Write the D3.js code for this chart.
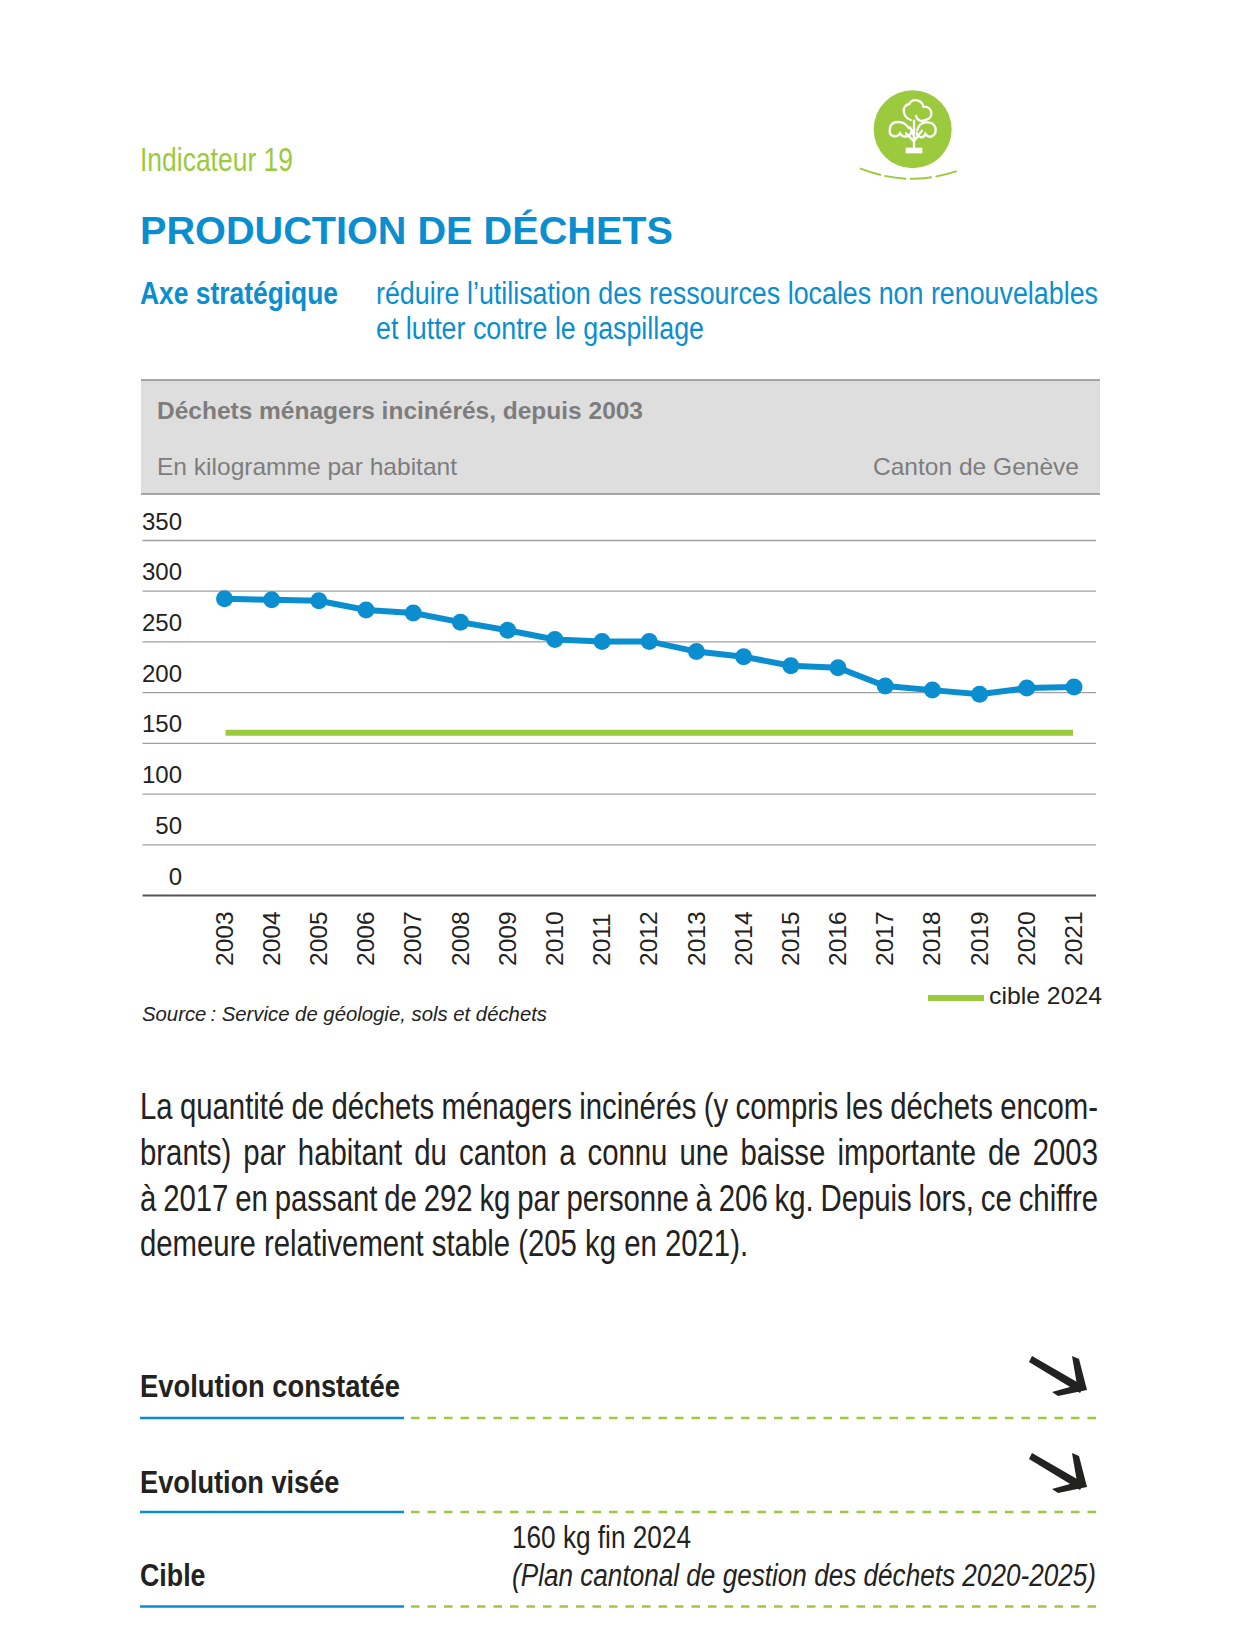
<!DOCTYPE html>
<html>
<head>
<meta charset="utf-8">
<script src="https://cdn.jsdelivr.net/npm/d3@7"></script>
<style>
  html, body { margin: 0; padding: 0; background: #fff; }
  svg { display: block; }
</style>
</head>
<body>
<svg id="page" width="1236" height="1629"></svg>
<script>
// data
const years = ["2003","2004","2005","2006","2007","2008","2009","2010","2011","2012","2013","2014","2015","2016","2017","2018","2019","2020","2021"];
const wasteKg = [292,291,290,281,278,269,261,252,250,250,240,235,226,224,206,202,198,204,205];
const targetKg = 160;
const yTicks = [0,50,100,150,200,250,300,350];

const bodyLines = [
  "La quantité de déchets ménagers incinérés (y compris les déchets encom-",
  "brants) par habitant du canton a connu une baisse importante de 2003",
  "à 2017 en passant de 292 kg par personne à 206 kg. Depuis lors, ce chiffre",
  "demeure relativement stable (205 kg en 2021)."
];

const BLUE = "#0a8ecf", GREEN = "#9bca3e", GREY = "#7d7d7d", DARK = "#222221";
const ARIAL = "'Liberation Sans', Arial, sans-serif";

const svg = d3.select("#page");

function label(x, y, str, o) {
  const t = svg.append("text")
    .attr("x", x).attr("y", y)
    .attr("font-family", ARIAL)
    .attr("font-size", o.size)
    .attr("font-weight", o.weight || "normal")
    .attr("font-style", o.style || "normal")
    .attr("fill", o.color || DARK)
    .text(str);
  if (o.w) t.attr("textLength", o.w).attr("lengthAdjust", "spacingAndGlyphs");
  return t;
}

// header
label(140, 171, "Indicateur 19", {size: 33, color: GREEN, w: 153});
label(140, 244, "PRODUCTION DE DÉCHETS", {size: 39, weight: "bold", color: BLUE, w: 533});
label(140, 304, "Axe stratégique", {size: 31, weight: "bold", color: BLUE, w: 198});
label(376, 304, "réduire l’utilisation des ressources locales non renouvelables", {size: 31, color: BLUE, w: 722});
label(376, 339, "et lutter contre le gaspillage", {size: 31, color: BLUE, w: 328});

// icon
const icon = svg.append("g").attr("transform", "translate(840,70) scale(0.3333)");
icon.append("circle").attr("cx", 218).attr("cy", 178).attr("r", 117).attr("fill", GREEN);
icon.append("path").attr("d", "M60,295 Q208,355 360,300")
  .attr("fill", "none").attr("stroke", GREEN).attr("stroke-width", 6).attr("stroke-dasharray", "66,11");
const tree = icon.append("g").attr("fill", "none").attr("stroke", "#fff").attr("stroke-width", 7).attr("stroke-linecap", "round");
tree.append("path").attr("d", "M212,150 C186,140 184,106 208,102 C216,84 246,88 250,110 C278,108 284,144 256,150 C244,156 232,152 228,138");
tree.append("path").attr("d", "M206,174 C192,150 154,150 150,174 C144,200 168,206 180,190 C188,206 210,202 216,182");
tree.append("path").attr("d", "M232,180 C238,152 278,150 286,172 C292,198 268,208 256,192 C250,208 232,202 230,188");
tree.append("path").attr("d", "M222,232 L222,152 M222,214 L198,190 M222,214 L246,182 M222,198 L210,172");
icon.append("rect").attr("x", 197).attr("y", 233).attr("width", 50).attr("height", 17).attr("fill", "#fff");

// grey title band
svg.append("rect").attr("x", 141).attr("y", 380).attr("width", 959).attr("height", 114).attr("fill", "#dedede");
svg.append("line").attr("x1", 141).attr("x2", 1100).attr("y1", 380).attr("y2", 380).attr("stroke", "#8c8c8c").attr("stroke-width", 1.3);
svg.append("line").attr("x1", 141).attr("x2", 1100).attr("y1", 494).attr("y2", 494).attr("stroke", "#8c8c8c").attr("stroke-width", 1.3);
label(157, 419, "Déchets ménagers incinérés, depuis 2003", {size: 24, weight: "bold", color: GREY, w: 486});
label(157, 475, "En kilogramme par habitant", {size: 24, color: GREY, w: 300});
label(873, 475, "Canton de Genève", {size: 24, color: GREY, w: 206});

// chart
const x = d3.scalePoint().domain(years).range([224.5, 1074]);
const y = d3.scaleLinear().domain([0, 350]).range([895, 540]);
const gridLeft = 142.5, gridRight = 1096;

const yAxis = svg.append("g")
  .attr("transform", `translate(${gridLeft},0)`)
  .call(d3.axisRight(y).tickValues(yTicks).tickSize(gridRight - gridLeft));
yAxis.select(".domain").remove();
yAxis.selectAll("line").attr("stroke", d => d === 0 ? "#555" : "#a0a0a0").attr("stroke-width", d => d === 0 ? 1.8 : 1.3);
yAxis.selectAll("text")
  .attr("x", 39.5).attr("dy", -11).attr("text-anchor", "end")
  .attr("font-family", ARIAL).attr("font-size", 24).attr("fill", DARK);

const xAxis = svg.append("g")
  .attr("transform", "translate(0,895)")
  .call(d3.axisBottom(x).tickSize(0));
xAxis.select(".domain").remove();
xAxis.selectAll("text")
  .attr("transform", "rotate(-90)")
  .attr("x", -71).attr("y", -1).attr("dy", "0.35em").attr("text-anchor", "start")
  .attr("font-family", ARIAL).attr("font-size", 24.5).attr("fill", DARK);

svg.append("line")
  .attr("x1", x("2003") + 1).attr("x2", x("2021") - 1)
  .attr("y1", y(targetKg)).attr("y2", y(targetKg))
  .attr("stroke", GREEN).attr("stroke-width", 6);

const line = d3.line().x((d, i) => x(years[i])).y(d => y(d));
svg.append("path").datum(wasteKg).attr("d", line)
  .attr("fill", "none").attr("stroke", BLUE).attr("stroke-width", 6);
svg.selectAll("circle.pt").data(wasteKg).enter().append("circle")
  .attr("class", "pt")
  .attr("cx", (d, i) => x(years[i])).attr("cy", d => y(d)).attr("r", 8.5).attr("fill", BLUE);

// legend, source
svg.append("line").attr("x1", 928).attr("x2", 984).attr("y1", 998).attr("y2", 998).attr("stroke", GREEN).attr("stroke-width", 6);
label(989, 1004, "cible 2024", {size: 24, w: 113});
label(142, 1021, "Source\u202f: Service de géologie, sols et déchets", {size: 20.5, style: "italic", w: 405});

// body text is squeezed sideways, first three lines justified with word spacing
const bodyY = [1119, 1165, 1211, 1256];
const bodySqueeze = 0.793;
bodyLines.forEach((s, i) => {
  const t = svg.append("text")
    .attr("transform", `translate(140,${bodyY[i]}) scale(${bodySqueeze},1)`)
    .attr("font-family", ARIAL).attr("font-size", 37).attr("fill", DARK)
    .text(s);
  const gaps = s.split(" ").length - 1;
  if (i < 3) t.attr("word-spacing", (958 / bodySqueeze - t.node().getComputedTextLength()) / gaps);
});

// bottom rows
const rowNames = ["Evolution constatée", "Evolution visée", "Cible"];
const rowTextY = [1397, 1493, 1586];
const rowWidth = [260, 199.5, 65.5];
const rowRuleY = [1418, 1512, 1606.5];
rowNames.forEach((s, i) => {
  label(140, rowTextY[i], s, {size: 31, weight: "bold", w: rowWidth[i]});
  svg.append("line").attr("x1", 140).attr("x2", 404).attr("y1", rowRuleY[i]).attr("y2", rowRuleY[i]).attr("stroke", BLUE).attr("stroke-width", 2.5);
  svg.append("line").attr("x1", 411).attr("x2", 1098).attr("y1", rowRuleY[i]).attr("y2", rowRuleY[i])
    .attr("stroke", GREEN).attr("stroke-width", 2.5).attr("stroke-dasharray", "8.5,8");
});
label(512, 1548, "160 kg fin 2024", {size: 31, w: 179});
label(512, 1586, "(Plan cantonal de gestion des déchets 2020-2025)", {size: 31, style: "italic", w: 584});

// arrows
[0, 97].forEach(dy => {
  const a = svg.append("g").attr("transform", `translate(0,${dy})`).attr("fill", "#222221");
  a.append("path").attr("d", "M1032,1356 L1084,1386 L1080,1393 L1029,1362 Z");
  a.append("path").attr("d", "M1072,1356 L1079,1359 L1087,1390 L1058,1396 L1052,1392 L1077,1385 Z");
});
</script>
</body>
</html>
